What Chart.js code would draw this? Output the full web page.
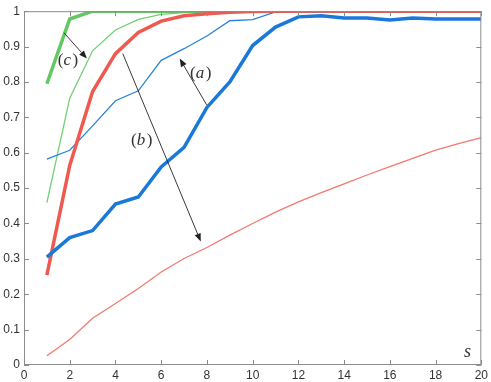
<!DOCTYPE html>
<html>
<head>
<meta charset="utf-8">
<script src="https://cdn.jsdelivr.net/npm/chart.js@4/dist/chart.umd.min.js"></script>
<style>
  html, body { margin: 0; padding: 0; background: #fff; }
</style>
</head>
<body>
<canvas id="chart" width="491" height="382"></canvas>
<script>
// s values (x axis)
const sValues = [1, 2, 3, 4, 5, 6, 7, 8, 9, 10, 11, 12, 13, 14, 15, 16, 17, 18, 19, 20];

// curves
const greenThick = [0.795, 0.978, 1, 1, 1, 1, 1, 1, 1, 1, 1, 1, 1, 1, 1, 1, 1, 1, 1, 1];
const greenThin = [0.459, 0.754, 0.888, 0.947, 0.977, 0.991, 0.996, 0.999, 1, 1, 1, 1, 1, 1, 1, 1, 1, 1, 1, 1];
const redThick = [0.254, 0.564, 0.773, 0.88, 0.94, 0.972, 0.987, 0.993, 0.997, 0.999, 1, 1, 1, 1, 1, 1, 1, 1, 1, 1];
const redThin = [0.026, 0.072, 0.132, 0.174, 0.216, 0.263, 0.301, 0.332, 0.367, 0.40, 0.432, 0.461, 0.487, 0.512, 0.537, 0.561, 0.584, 0.607, 0.626, 0.643];
const blueThick = [0.305, 0.36, 0.38, 0.455, 0.475, 0.56, 0.615, 0.728, 0.80, 0.903, 0.955, 0.984, 0.987, 0.981, 0.981, 0.975, 0.981, 0.978, 0.978, 0.978];
const blueThin = [0.582, 0.607, 0.676, 0.747, 0.775, 0.861, 0.894, 0.93, 0.973, 0.976, 0.998, 0.998, 0.998, 0.998, 0.998, 0.998, 0.997, 0.998, 0.998, 0.998];

// tick values
const xTicks = [0, 2, 4, 6, 8, 10, 12, 14, 16, 18, 20];
const yTicks = [0, 0.1, 0.2, 0.3, 0.4, 0.5, 0.6, 0.7, 0.8, 0.9, 1];

// annotation labels + arrows (data coords)
const labels = [
  { text: 'c', x: 1.92, y: 0.860 },
  { text: 'b', x: 5.15, y: 0.634 },
  { text: 'a', x: 7.73, y: 0.824 }
];
const arrows = [
  { from: [1.75, 0.939], to: [2.75, 0.866] },
  { from: [4.32, 0.880], to: [7.73, 0.349] },
  { from: [7.99, 0.735], to: [6.81, 0.866] }
];

function pts(vals) {
  return sValues.map((s, i) => ({ x: s, y: vals[i] }));
}

function line(vals, color, width, order) {
  return {
    data: pts(vals),
    borderColor: color,
    borderWidth: width,
    pointRadius: 0,
    tension: 0,
    fill: false,
    order: order
  };
}

// frame + inward tick marks on all four sides
const frameTicks = {
  id: 'frameTicks',
  afterDraw(chart) {
    const ctx = chart.ctx;
    const a = chart.chartArea;
    const xs = chart.scales.x, ys = chart.scales.y;
    const len = 5;
    ctx.save();
    ctx.strokeStyle = '#8c8c8c';
    ctx.lineWidth = 1;
    ctx.beginPath();
    ctx.rect(a.left + 0.5, a.top + 0.5, a.right - a.left - 1, a.bottom - a.top - 1);
    ctx.stroke();
    ctx.beginPath();
    xTicks.forEach(v => {
      const px = Math.round(xs.getPixelForValue(v)) + 0.5;
      ctx.moveTo(px, a.bottom); ctx.lineTo(px, a.bottom - len);
      ctx.moveTo(px, a.top); ctx.lineTo(px, a.top + len);
    });
    yTicks.forEach(v => {
      const py = Math.round(ys.getPixelForValue(v)) + 0.5;
      ctx.moveTo(a.left, py); ctx.lineTo(a.left + len, py);
      ctx.moveTo(a.right, py); ctx.lineTo(a.right - len, py);
    });
    ctx.stroke();
    ctx.restore();
  }
};

// (a), (b), (c) labels with arrows, and the s axis label
const notes = {
  id: 'notes',
  afterDraw(chart) {
    const ctx = chart.ctx;
    const xs = chart.scales.x, ys = chart.scales.y;
    ctx.save();
    ctx.strokeStyle = '#222';
    ctx.fillStyle = '#222';
    ctx.lineWidth = 0.9;
    arrows.forEach(ar => {
      const x1 = xs.getPixelForValue(ar.from[0]), y1 = ys.getPixelForValue(ar.from[1]);
      const x2 = xs.getPixelForValue(ar.to[0]), y2 = ys.getPixelForValue(ar.to[1]);
      const ang = Math.atan2(y2 - y1, x2 - x1);
      const hl = 8, hw = 3.2;
      const bx = x2 - hl * Math.cos(ang), by = y2 - hl * Math.sin(ang);
      ctx.beginPath();
      ctx.moveTo(x1, y1); ctx.lineTo(bx, by);
      ctx.stroke();
      ctx.beginPath();
      ctx.moveTo(x2, y2);
      ctx.lineTo(bx + hw * Math.sin(ang), by - hw * Math.cos(ang));
      ctx.lineTo(bx - hw * Math.sin(ang), by + hw * Math.cos(ang));
      ctx.closePath();
      ctx.fill();
    });
    ctx.fillStyle = '#333';
    ctx.textBaseline = 'middle';
    const up = '17px "Liberation Serif"', it = 'italic 17px "Liberation Serif"';
    labels.forEach(l => {
      const cx = xs.getPixelForValue(l.x), cy = ys.getPixelForValue(l.y);
      ctx.font = up; const wp = ctx.measureText('(').width;
      ctx.font = it; const wl = ctx.measureText(l.text).width + 1.5;
      let x = cx - (2 * wp + wl) / 2;
      ctx.textAlign = 'left';
      ctx.font = up; ctx.fillText('(', x, cy); x += wp;
      ctx.font = it; ctx.fillText(l.text, x, cy); x += wl;
      ctx.font = up; ctx.fillText(')', x, cy);
    });
    ctx.font = 'italic 18px "Liberation Serif"';
    ctx.textAlign = 'center';
    ctx.fillText('s', xs.getPixelForValue(19.39), ys.getPixelForValue(0.035));
    ctx.restore();
  }
};

new Chart(document.getElementById('chart').getContext('2d'), {
  type: 'line',
  data: {
    datasets: [
      line(blueThick, '#1a78d8', 3.5, 1),
      line(redThick, '#ee5a50', 3.5, 2),
      line(greenThick, '#62c862', 3.5, 3),
      line(blueThin, '#2a82dc', 1.3, 4),
      line(greenThin, '#72d072', 1.3, 5),
      line(redThin, '#f27a70', 1.3, 6)
    ]
  },
  options: {
    responsive: false,
    animation: false,
    layout: { padding: { top: 7, right: 9, left: 0, bottom: 0 } },
    plugins: { legend: { display: false }, tooltip: { enabled: false } },
    scales: {
      x: {
        type: 'linear',
        min: 0, max: 20,
        grid: { display: false, drawTicks: false },
        border: { display: false },
        afterBuildTicks: s => { s.ticks = xTicks.map(v => ({ value: v })); },
        afterFit: s => { s.height = 17; },
        ticks: {
          padding: 3,
          color: '#333',
          maxRotation: 0,
          autoSkip: false,
          font: { family: '"Liberation Sans", Arial, sans-serif', size: 12 }
        }
      },
      y: {
        min: 0, max: 1,
        grid: { display: false, drawTicks: false },
        border: { display: false },
        afterBuildTicks: s => { s.ticks = yTicks.map(v => ({ value: v })); },
        afterFit: s => { s.width = 24; },
        ticks: {
          padding: 4,
          color: '#333',
          autoSkip: false,
          callback: v => String(Number(v.toFixed(1))),
          font: { family: '"Liberation Sans", Arial, sans-serif', size: 12 }
        }
      }
    }
  },
  plugins: [frameTicks, notes]
});
</script>
</body>
</html>
